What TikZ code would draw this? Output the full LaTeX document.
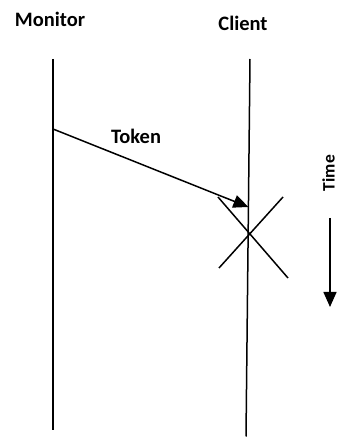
\documentclass[tikz,border=0pt]{standalone}
\usepackage{fontspec}
\setmainfont{Carlito}
\usetikzlibrary{arrows.meta}
\begin{document}
\begin{tikzpicture}[x=1pt,y=1pt,
  lbl/.style={font=\bfseries\fontsize{20.5}{24}\selectfont, inner sep=0pt},
  life/.style={line width=1.5pt},
  msg/.style={line width=1.5pt,-{Triangle[length=15pt,width=13pt]}}]
\useasboundingbox (0,0) rectangle (338,437);
\node[lbl] (mon) at (50,418) {Monitor};
\node[lbl] (cli) at (243,414) {Client};
\node[lbl] (tok) at (136,301) {Token};
\node[lbl, font=\bfseries\fontsize{17.5}{20}\selectfont, rotate=90] (time) at (328.5,264) {Time};
\coordinate (m1) at (53,378);
\coordinate (m2) at (53,7);
\coordinate (c1) at (250,378);
\coordinate (c2) at (246,0.5);
\coordinate (s) at (53,308);
\coordinate (t) at (248.4,230);
\coordinate (x1) at (218,240);
\coordinate (x2) at (288,159);
\coordinate (x3) at (283,240);
\coordinate (x4) at (219,169);
\coordinate (ta) at (330,219);
\coordinate (tb) at (330,130);
\draw[life] (m1) -- (m2);
\draw[life] (c1) -- (c2);
\draw[msg] (s) -- (t);
\draw[life] (x1) -- (x2);
\draw[life] (x3) -- (x4);
\draw[msg] (ta) -- (tb);
\end{tikzpicture}
\end{document}
